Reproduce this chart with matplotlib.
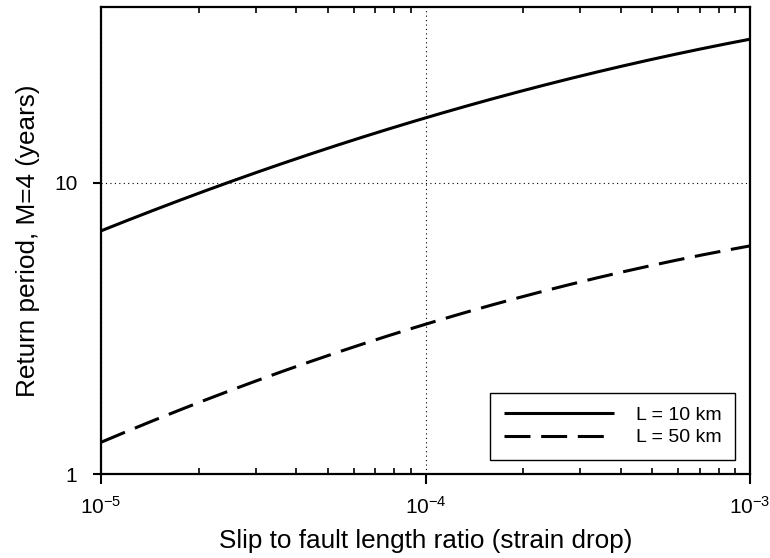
import matplotlib
matplotlib.use("Agg")
import matplotlib.pyplot as plt
from matplotlib.ticker import LogLocator, FixedLocator, NullLocator, FixedFormatter, NullFormatter
import numpy as np

plt.rcParams['font.family'] = ['Liberation Sans', 'DejaVu Sans']
plt.rcParams['mathtext.fontset'] = 'custom'
plt.rcParams['mathtext.rm'] = 'Liberation Sans'
plt.rcParams['mathtext.it'] = 'Liberation Sans'

# Data (strain drop vs return period)
strain_drop = [1e-5, 10**-4.75, 10**-4.5, 10**-4.25, 1e-4, 10**-3.75, 10**-3.5, 10**-3.25, 1e-3]
period_L10 = [6.87, 8.7, 11.0, 13.6, 16.7, 20.0, 23.7, 27.2, 30.9]
period_L50 = [1.31, 1.66, 2.09, 2.63, 3.20, 4.02, 4.80, 5.32, 5.95]
labels = ["L = 10 km", "L = 50 km"]
x_ticks = [1e-5, 1e-4, 1e-3]
x_ticklabels = [r"$\mathregular{10^{-5}}$", r"$\mathregular{10^{-4}}$", r"$\mathregular{10^{-3}}$"]
y_ticks = [1, 10]
y_ticklabels = ["1", "10"]

fig = plt.figure(figsize=(7.70, 5.58), dpi=100)
ax = fig.add_axes([101/770, 1 - 474/558, (750-101)/770, (474-7)/558])

# smooth in log space
lx = np.log10(strain_drop)
xs = np.linspace(lx[0], lx[-1], 200)
def smooth(vals):
    ly = np.log10(vals)
    c = np.polyfit(lx, ly, 2)
    return 10**xs, 10**np.polyval(c, xs)

x1, y1 = smooth(period_L10)
x2, y2 = smooth(period_L50)
ax.plot(x1, y1, color='black', lw=2.2, label=labels[0], solid_capstyle='butt')
ax.plot(x2, y2, color='black', lw=2.2, dashes=(8.5, 3.5), label=labels[1])

ax.set_xscale('log')
ax.set_yscale('log')
ax.set_xlim(1e-5, 1e-3)
ax.set_ylim(1, 40)

ax.xaxis.set_major_locator(FixedLocator(x_ticks))
ax.xaxis.set_major_formatter(FixedFormatter(x_ticklabels))
ax.xaxis.set_minor_locator(LogLocator(base=10, subs=np.arange(2, 10)))
ax.xaxis.set_minor_formatter(NullFormatter())
ax.yaxis.set_major_locator(FixedLocator(y_ticks))
ax.yaxis.set_major_formatter(FixedFormatter(y_ticklabels))
ax.yaxis.set_minor_locator(NullLocator())

ax.tick_params(axis='x', which='major', direction='out', length=7, width=1.5, labelsize=15, pad=9, top=False)
ax.tick_params(axis='x', which='minor', direction='in', length=4, width=1.2, top=True, bottom=True)
ax.tick_params(axis='y', which='major', direction='out', length=6, width=1.5, labelsize=15, pad=11)

for s in ax.spines.values():
    s.set_linewidth(1.6)

ax.grid(True, which='major', axis='both', color='black', linestyle=(0, (1, 3)), linewidth=0.8)

ax.set_xlabel("Slip to fault length ratio (strain drop)", fontsize=18.8, labelpad=8)
ax.set_ylabel("Return period, M=4 (years)", fontsize=18.8, labelpad=10)

leg = ax.legend(loc='lower right', bbox_to_anchor=((735-101)/649, (474-460)/467), borderaxespad=0,
                fontsize=14, handlelength=5.7, handletextpad=1.1, labelspacing=0.25,
                borderpad=0.7, fancybox=False, edgecolor='black', framealpha=1)
leg.get_frame().set_linewidth(1.0)

fig.savefig("out.png", dpi=100)
